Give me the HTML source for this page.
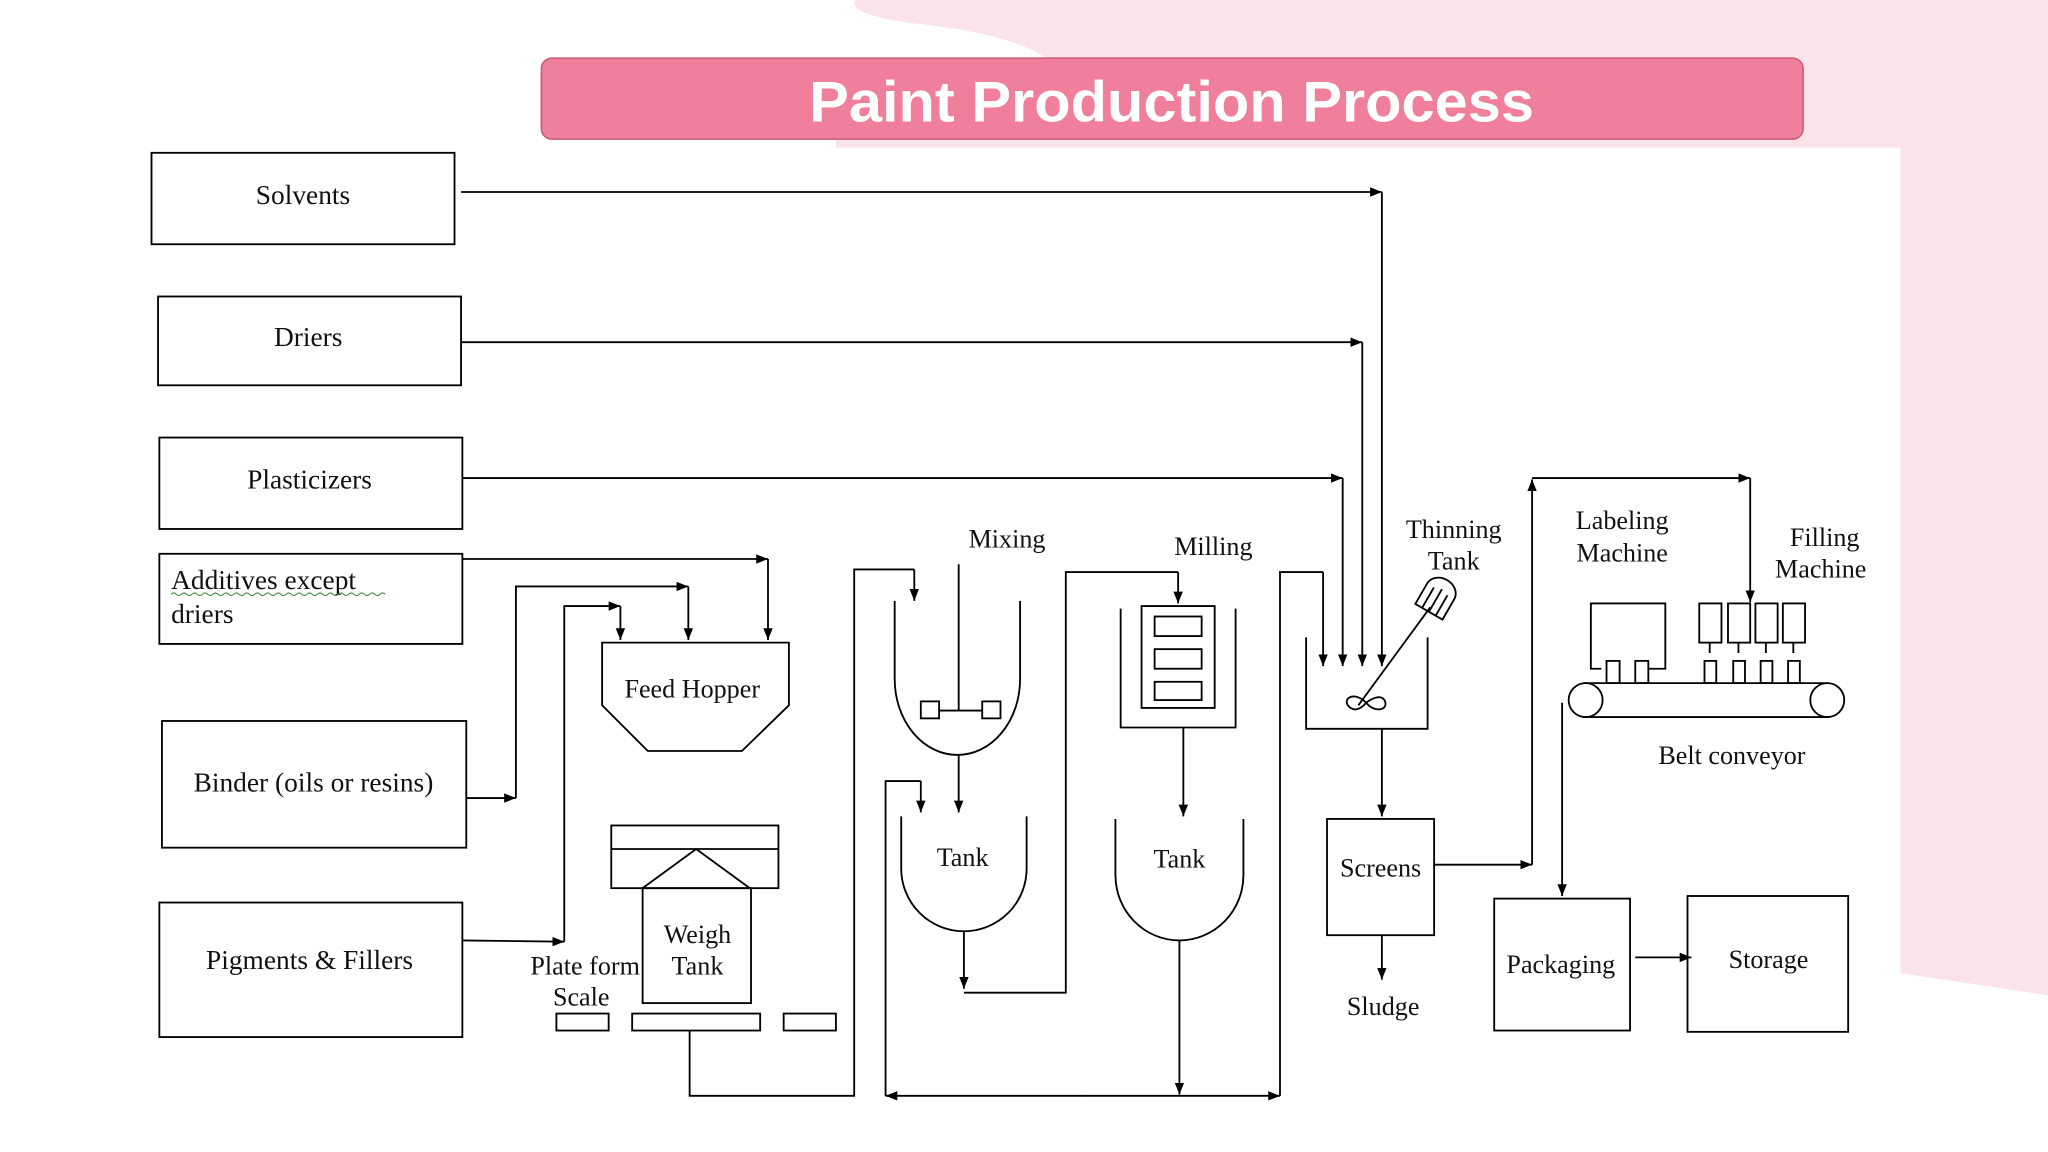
<!DOCTYPE html>
<html><head><meta charset="utf-8"><style>
html,body{margin:0;padding:0;background:#fff;}
svg{display:block;}
text{font-family:"Liberation Serif",serif;fill:#111;}
</style></head><body>
<svg width="2048" height="1152" viewBox="0 0 1568 882" preserveAspectRatio="none" xmlns="http://www.w3.org/2000/svg">
<defs>
<marker id="a" viewBox="0 0 10 10" refX="10" refY="5" markerWidth="9" markerHeight="9" markerUnits="userSpaceOnUse" orient="auto"><path d="M0,1 L10,5 L0,9 z" fill="#000"/></marker>
</defs>
<rect width="1568" height="882" fill="#fff"/>
<path d="M655,0 L1568,0 L1568,762 L1455,745 L1455,113 L640,113 L640,100 L800,100 L800,44 C780,30 740,22 700,18 C670,14 650,8 655,0 z" fill="#fbe3ea"/>
<rect x="414.5" y="44.5" width="966" height="62" rx="8" fill="#ef7f9b" stroke="#c85a75" stroke-width="1.2"/>
<text x="897" y="93" text-anchor="middle" style="font-family:'Liberation Sans',sans-serif;font-weight:bold;font-size:44px;fill:#fff" textLength="555" lengthAdjust="spacingAndGlyphs">Paint Production Process</text>

<g fill="none" stroke="#000" stroke-width="1.4">
<rect x="116" y="117" width="232" height="70"/>
<rect x="121" y="227" width="232" height="68"/>
<rect x="122" y="335" width="232" height="70"/>
<rect x="122" y="424" width="232" height="69"/>
<rect x="124" y="552" width="233" height="97"/>
<rect x="122" y="691" width="232" height="103"/>
</g>
<g font-size="21" text-anchor="middle">
<text x="232" y="156">Solvents</text>
<text x="236" y="265">Driers</text>
<text x="237" y="374">Plasticizers</text>
<text x="240" y="606">Binder (oils or resins)</text>
<text x="237" y="742">Pigments &amp; Fillers</text>
</g>
<text x="131" y="451" font-size="21">Additives  except</text>
<text x="131" y="477" font-size="21">driers</text>
<path d="M131,455 q2,-2 4,0 t4,0 t4,0 t4,0 t4,0 t4,0 t4,0 t4,0 t4,0 t4,0 t4,0 t4,0 t4,0 t4,0 t4,0 t4,0 t4,0 t4,0 t4,0 t4,0 t4,0 t4,0 t4,0 t4,0 t4,0 t4,0 t4,0 t4,0 t4,0 t4,0 t4,0 t4,0 t4,0 t4,0 t4,0 t4,0 t4,0 t4,0 t4,0 t4,0 t4,0" fill="none" stroke="#3a8a3a" stroke-width="0.8"/>

<g fill="none" stroke="#000" stroke-width="1.4">
<path d="M353,147 L1058,147" marker-end="url(#a)"/>
<path d="M1058,147 L1058,510" marker-end="url(#a)"/>
<path d="M353,262 L1043,262" marker-end="url(#a)"/>
<path d="M1043,262 L1043,510" marker-end="url(#a)"/>
<path d="M354,366 L1028,366" marker-end="url(#a)"/>
<path d="M1028,366 L1028,510" marker-end="url(#a)"/>
<path d="M354,428 L588,428" marker-end="url(#a)"/>
<path d="M588,428 L588,490" marker-end="url(#a)"/>
<path d="M357,611 L395,611" marker-end="url(#a)"/>
<path d="M395,611 L395,449 L527,449" marker-end="url(#a)"/>
<path d="M527,449 L527,490" marker-end="url(#a)"/>
<path d="M354,720 L432,721" marker-end="url(#a)"/>
<path d="M432,721 L432,464 L475,464" marker-end="url(#a)"/>
<path d="M475,464 L475,490" marker-end="url(#a)"/>
<path d="M461,492 L604,492 L604,540 L568,575 L496,575 L461,540 z"/>
<rect x="468" y="632" width="128" height="48"/>
<line x1="468" y1="650" x2="596" y2="650"/>
<path d="M492,680 L533,650 L574,680"/>
<rect x="492" y="680" width="83" height="88"/>
<rect x="426" y="776" width="40" height="13"/>
<rect x="484" y="776" width="98" height="13"/>
<rect x="600" y="776" width="40" height="13"/>
<path d="M528,789 L528,839 L654,839 L654,436 L700,436" />
<path d="M700,436 L700,460" marker-end="url(#a)"/>
<path d="M685,460 L685,520 A48,58 0 0 0 781,520 L781,460"/>
<line x1="734" y1="432" x2="734" y2="544"/>
<rect x="705" y="537" width="14" height="13"/>
<rect x="752" y="537" width="14" height="13"/>
<line x1="719" y1="544" x2="752" y2="544"/>
<path d="M734,578 L734,622" marker-end="url(#a)"/>
<path d="M690,625 L690,665 A48,48 0 0 0 786,665 L786,625"/>
<path d="M738,713 L738,757" marker-end="url(#a)"/>
<path d="M738,760 L816,760 L816,438 L902,438"/>
<path d="M902,438 L902,462" marker-end="url(#a)"/>
<path d="M678,839 L678,598 L705,598"/>
<path d="M705,598 L705,622" marker-end="url(#a)"/>
<path d="M830,839 L678,839" marker-end="url(#a)"/>
<path d="M830,839 L980,839" marker-end="url(#a)"/>
<path d="M858,466 L858,557 L946,557 L946,466"/>
<path d="M874,464 L874,542 L930,542 L930,464 z"/>
<rect x="884" y="472" width="36" height="15"/>
<rect x="884" y="497" width="36" height="15"/>
<rect x="884" y="522" width="36" height="14"/>
<path d="M906,557 L906,625" marker-end="url(#a)"/>
<path d="M854,627 L854,670 A49,50 0 0 0 952,670 L952,627"/>
<path d="M903,720 L903,838" marker-end="url(#a)"/>
<path d="M980,839 L980,438 L1013,438"/>
<path d="M1013,438 L1013,510" marker-end="url(#a)"/>
<path d="M1000,488 L1000,558 L1093,558 L1093,488"/>
<line x1="1040" y1="540" x2="1095" y2="465"/>
<g transform="translate(1100,458) rotate(30)">
<path d="M-12,-6 L-12,12 L12,12 L12,-6 A12,10 0 0 0 -12,-6 z"/>
<line x1="-6" y1="-6" x2="-6" y2="12"/><line x1="0" y1="-8" x2="0" y2="12"/><line x1="6" y1="-6" x2="6" y2="12"/>
</g>
<path d="M1046,538 C1036,528 1026,536 1034,542 C1040,546 1046,538 1046,538 C1052,546 1064,544 1060,536 C1056,530 1046,538 1046,538"/>
<path d="M1058,558 L1058,625" marker-end="url(#a)"/>
<rect x="1016" y="627" width="82" height="89"/>
<path d="M1058,716 L1058,750" marker-end="url(#a)"/>
<path d="M1098,662 L1173,662" marker-end="url(#a)"/>
<path d="M1173,662 L1173,367" marker-end="url(#a)"/>
<path d="M1173,366 L1340,366" marker-end="url(#a)"/>
<path d="M1340,366 L1340,461" marker-end="url(#a)"/>
<path d="M1226,512 L1218,512 L1218,462 L1275,462 L1275,512 L1262,512"/>
<rect x="1230" y="506" width="10" height="17"/>
<rect x="1252" y="506" width="10" height="17"/>
<rect x="1301" y="462" width="17" height="30"/>
<rect x="1323" y="462" width="17" height="30"/>
<rect x="1344" y="462" width="17" height="30"/>
<rect x="1365" y="462" width="17" height="30"/>
<path d="M1309,492 v8 M1331,492 v8 M1352,492 v8 M1373,492 v8"/>
<rect x="1305" y="506" width="9" height="17"/>
<rect x="1327" y="506" width="9" height="17"/>
<rect x="1348" y="506" width="9" height="17"/>
<rect x="1369" y="506" width="9" height="17"/>
<line x1="1212" y1="523" x2="1400" y2="523"/>
<line x1="1212" y1="549" x2="1400" y2="549"/>
<circle cx="1214" cy="536" r="13"/>
<circle cx="1399" cy="536" r="13"/>
<path d="M1196,538 L1196,686" marker-end="url(#a)"/>
<rect x="1144" y="688" width="104" height="101"/>
<path d="M1252,733 L1295,733" marker-end="url(#a)"/>
<rect x="1292" y="686" width="123" height="104"/>
</g>
<g font-size="20" text-anchor="middle">
<text x="530" y="534">Feed Hopper</text>
<text x="534" y="722">Weigh</text>
<text x="534" y="746">Tank</text>
<text x="448" y="746">Plate form</text>
<text x="445" y="770">Scale</text>
<text x="771" y="419">Mixing</text>
<text x="929" y="425">Milling</text>
<text x="737" y="663">Tank</text>
<text x="903" y="664">Tank</text>
<text x="1113" y="412">Thinning</text>
<text x="1113" y="436">Tank</text>
<text x="1242" y="405">Labeling</text>
<text x="1242" y="430">Machine</text>
<text x="1397" y="418">Filling</text>
<text x="1394" y="442">Machine</text>
<text x="1326" y="585">Belt conveyor</text>
<text x="1057" y="671">Screens</text>
<text x="1059" y="777">Sludge</text>
<text x="1195" y="745">Packaging</text>
<text x="1354" y="741">Storage</text>
</g>
</svg>
</body></html>
